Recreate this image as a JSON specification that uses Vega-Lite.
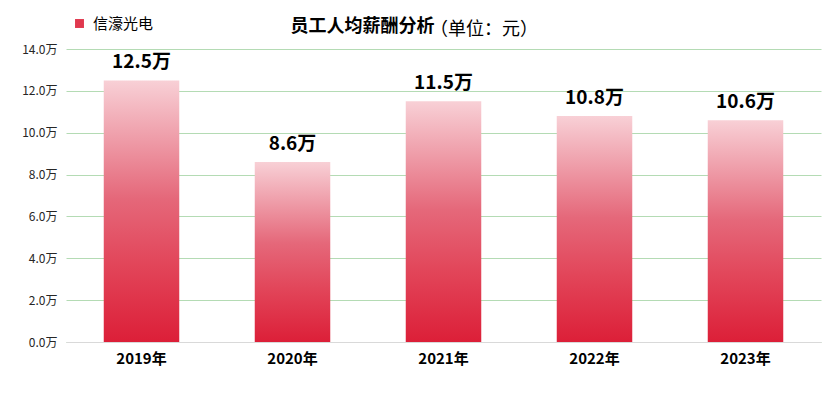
{
  "$schema": "https://vega.github.io/schema/vega-lite/v6.json",
  "autosize": "none",
  "width": 755,
  "height": 293,
  "padding": {"left": 66, "top": 49, "right": 18, "bottom": 57},
  "background": "white",
  "config": {
    "font": "Noto Sans CJK SC",
    "view": {"stroke": null}
  },
  "title": {
    "text": "员工人均薪酬分析\u3000\u3000\u3000\u3000\u3000\u3000\u200b",
    "subtitle": "\u200b\u3000\u3000\u3000\u3000\u3000\u3000\u3000\u3000（单位：元）",
    "anchor": "middle",
    "dx": -27,
    "dy": 27,
    "fontSize": 18,
    "fontWeight": "bold",
    "color": "#000000",
    "subtitleFontSize": 18,
    "subtitleFontWeight": "normal",
    "subtitleColor": "#000000",
    "subtitlePadding": -15,
    "offset": 4,
    "font": "Noto Sans CJK SC",
    "subtitleFont": "Noto Sans CJK SC"
  },
  "data": {
    "values": [
      {"year": "2019年", "value": 12.5, "series": "信濠光电"},
      {"year": "2020年", "value": 8.6, "series": "信濠光电"},
      {"year": "2021年", "value": 11.5, "series": "信濠光电"},
      {"year": "2022年", "value": 10.8, "series": "信濠光电"},
      {"year": "2023年", "value": 10.6, "series": "信濠光电"}
    ]
  },
  "encoding": {
    "x": {
      "field": "year",
      "type": "nominal",
      "sort": null,
      "scale": {"paddingInner": 0.5, "paddingOuter": 0.25},
      "axis": {
        "title": null,
        "labelAngle": 0,
        "labelFontSize": 15,
        "labelFontWeight": "bold",
        "labelColor": "#000000",
        "labelPadding": 9,
        "ticks": false,
        "domainColor": "#D9D9D9",
        "domainWidth": 1,
        "zindex": 2
      }
    },
    "y": {
      "field": "value",
      "type": "quantitative",
      "scale": {"domain": [0, 14]},
      "axis": {
        "title": null,
        "values": [0, 2, 4, 6, 8, 10, 12, 14],
        "labelExpr": "format(datum.value, '.1f') + '万'",
        "labelFontSize": 12,
        "labelColor": "#262626",
        "labelPadding": 9,
        "ticks": false,
        "domain": false,
        "gridColor": "#B4DBB4",
        "gridWidth": 1
      }
    }
  },
  "layer": [
    {
      "mark": {
        "type": "bar",
        "color": {
          "gradient": "linear",
          "x1": 0, "y1": 0, "x2": 0, "y2": 1,
          "stops": [
            {"offset": 0, "color": "#F8D0D6"},
            {"offset": 0.45, "color": "#E5687A"},
            {"offset": 0.7, "color": "#E2465A"},
            {"offset": 1, "color": "#DC1F38"}
          ]
        }
      }
    },
    {
      "mark": {"type": "square", "opacity": 0, "size": 1},
      "encoding": {
        "color": {
          "field": "series",
          "type": "nominal",
          "scale": {"range": ["#E0384E"]},
          "legend": {
            "title": null,
            "orient": "none",
            "legendX": 6,
            "legendY": -33,
            "symbolType": "square",
            "symbolSize": 80,
            "symbolOpacity": 1,
            "labelFontSize": 15,
            "labelColor": "#000000",
            "labelOffset": 6
          }
        }
      }
    },
    {
      "mark": {
        "type": "text",
        "baseline": "bottom",
        "dy": -8,
        "fontSize": 19,
        "fontWeight": "bold",
        "color": "#000000",
        "text": {"expr": "format(datum.value, '.1f') + '万'"}
      }
    }
  ]
}
